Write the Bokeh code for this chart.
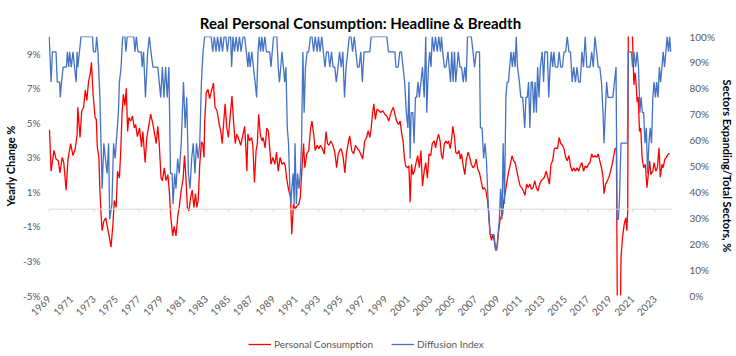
import math
from bokeh.plotting import figure
from bokeh.layouts import column
from bokeh.models import (Range1d, LinearAxis, FixedTicker, PrintfTickFormatter,
                          Span, Legend, LegendItem)
from bokeh.embed import file_html
from bokeh.resources import INLINE

# ---------------- data ----------------
pc_year = [
    1969.03, 1969.17, 1969.43, 1969.61, 1969.81, 1969.96, 1970.16, 1970.30, 1970.51, 1970.68,
    1970.91, 1971.12, 1971.32, 1971.49, 1971.55, 1971.75, 1971.90, 1972.07, 1972.22, 1972.36,
    1972.51, 1972.65, 1972.77, 1972.91, 1973.09, 1973.20, 1973.29, 1973.43, 1973.52, 1973.64,
    1973.72, 1973.87, 1974.04, 1974.22, 1974.33, 1974.51, 1974.68, 1974.80, 1974.97, 1975.09,
    1975.26, 1975.38, 1975.49, 1975.61, 1975.75, 1975.87, 1975.99, 1976.10, 1976.28, 1976.42,
    1976.59, 1976.71, 1976.86, 1977.06, 1977.23, 1977.35, 1977.55, 1977.70, 1977.87, 1978.04,
    1978.22, 1978.36, 1978.54, 1978.68, 1978.80, 1978.97, 1979.09, 1979.26, 1979.41, 1979.58,
    1979.72, 1979.84, 1980.01, 1980.13, 1980.30, 1980.48, 1980.59, 1980.77, 1980.94, 1981.06,
    1981.17, 1981.32, 1981.46, 1981.61, 1981.75, 1981.90, 1982.04, 1982.16, 1982.28, 1982.42,
    1982.57, 1982.68, 1982.80,
    1982.86, 1983.00, 1983.15, 1983.29, 1983.43, 1983.64, 1983.78, 1983.96, 1984.16, 1984.30,
    1984.42, 1984.54, 1984.68, 1984.83, 1984.97, 1985.12, 1985.29, 1985.43, 1985.58, 1985.72,
    1985.90, 1986.07, 1986.25, 1986.42, 1986.54, 1986.62, 1986.71, 1986.85, 1987.03, 1987.15,
    1987.29, 1987.44, 1987.55, 1987.67, 1987.81, 1987.96, 1988.07, 1988.25, 1988.39, 1988.54,
    1988.65, 1988.77, 1988.94, 1989.12, 1989.26, 1989.41, 1989.58, 1989.75, 1989.93, 1990.04,
    1990.16, 1990.33, 1990.51, 1990.62, 1990.77, 1990.91, 1991.09, 1991.26, 1991.38, 1991.55,
    1991.67, 1991.78, 1991.96, 1992.13, 1992.30, 1992.42, 1992.57, 1992.71, 1992.88, 1993.03,
    1993.17, 1993.35, 1993.52, 1993.67, 1993.81, 1993.93, 1994.10, 1994.28, 1994.45, 1994.62,
    1994.74, 1994.88, 1995.03, 1995.20, 1995.35, 1995.49, 1995.64, 1995.78, 1995.96, 1996.13,
    1996.30, 1996.48,
    1996.62, 1996.83, 1996.94, 1997.12, 1997.29, 1997.43, 1997.58, 1997.70, 1997.81, 1997.93,
    1998.07, 1998.22, 1998.39, 1998.56, 1998.74, 1998.91, 1999.09, 1999.26, 1999.38, 1999.52,
    1999.67, 1999.81, 1999.96, 2000.13, 2000.28, 2000.42, 2000.54, 2000.65, 2000.77, 2000.94,
    2001.06, 2001.17, 2001.29, 2001.41, 2001.55, 2001.70, 2001.84, 2001.99, 2002.13, 2002.27,
    2002.42, 2002.56, 2002.71, 2002.85, 2003.00, 2003.14, 2003.32, 2003.43, 2003.58, 2003.70,
    2003.84, 2003.96, 2004.07, 2004.22, 2004.36, 2004.48, 2004.59, 2004.74, 2004.88, 2004.97,
    2005.12, 2005.23, 2005.38, 2005.52, 2005.64, 2005.75, 2005.90, 2006.04, 2006.16, 2006.33,
    2006.48, 2006.62, 2006.77, 2006.91, 2007.06, 2007.20, 2007.35, 2007.49, 2007.64, 2007.78,
    2007.93, 2008.07, 2008.22, 2008.30, 2008.42, 2008.54, 2008.65, 2008.83, 2008.94, 2009.06,
    2009.17, 2009.29, 2009.41, 2009.52, 2009.67, 2009.81, 2009.96, 2010.10, 2010.25, 2010.39,
    2010.53, 2010.68, 2010.82, 2010.97, 2011.11, 2011.26, 2011.40, 2011.55, 2011.69, 2011.84,
    2011.98, 2012.13, 2012.27, 2012.42, 2012.56, 2012.71, 2012.85, 2013.00, 2013.14, 2013.29,
    2013.43, 2013.58, 2013.72, 2013.87, 2014.01, 2014.16, 2014.30, 2014.45, 2014.59, 2014.74,
    2014.88, 2015.03, 2015.17, 2015.32, 2015.46, 2015.61, 2015.75, 2015.90, 2016.04, 2016.19,
    2016.33, 2016.48, 2016.62, 2016.77, 2016.91, 2017.06, 2017.20, 2017.35, 2017.49, 2017.64,
    2017.78, 2017.93, 2018.07, 2018.22, 2018.36, 2018.45, 2018.59, 2018.74, 2018.88, 2019.03,
    2019.17, 2019.32, 2019.43, 2019.55, 2019.64, 2019.72, 2019.84, 2019.96, 2020.10, 2020.25,
    2020.39, 2020.48, 2020.56, 2020.64, 2020.80, 2020.96, 2021.11, 2021.20, 2021.29, 2021.40,
    2021.49, 2021.61, 2021.72, 2021.84, 2021.98, 2022.13, 2022.27, 2022.39, 2022.51, 2022.62,
    2022.80, 2022.91, 2023.06, 2023.20, 2023.35, 2023.46, 2023.61, 2023.72, 2023.87, 2024.01,
    2024.16, 2024.30,
]
pc_value = [
    4.6, 2.2, 3.4, 2.9, 2.8, 2.1, 3.0, 2.7, 1.1, 2.9,
    3.8, 3.1, 3.5, 4.3, 5.9, 4.15, 5.7, 5.9, 6.9, 6.3,
    7.4, 7.8, 8.5, 6.7, 5.3, 5.2, 3.6, 3.0, 1.1, -0.5,
    -1.25, -0.7, -0.5, -1.15, -1.5, -2.2, -0.9, 0.5, 0.1, 2.2,
    1.8, 3.4, 5.5, 6.65, 6.0, 7.0, 4.5, 5.3, 5.1, 5.4,
    4.7, 4.9, 4.2, 4.7, 3.6, 4.5, 2.7, 4.15, 4.8, 5.5,
    5.0, 4.5, 3.8, 4.8, 3.9, 1.8, 1.65, 2.4, 1.65, 2.0,
    0.9, -0.5, -1.55, -1.0, -1.55, -0.3, 0.1, 1.1, 1.8, 3.1,
    2.0, 0.1, -0.1, 0.7, 1.1, 0.1, 0.9, 0.1, 0.5, 2.6,
    3.9, 3.8, 3.0,
    5.1, 6.75, 6.95, 6.4, 6.75, 7.3, 5.9, 5.7, 4.9, 4.5,
    3.8, 4.9, 6.1, 4.7, 4.15, 5.3, 6.55, 5.1, 3.8, 4.35,
    4.05, 3.7, 4.25, 4.8, 3.4, 2.2, 4.35, 3.95, 4.15, 3.7,
    1.55, 3.4, 3.8, 5.5, 4.35, 3.95, 4.15, 3.55, 4.7, 4.5,
    3.55, 2.6, 3.0, 2.6, 3.3, 2.2, 3.0, 2.6, 2.7, 2.5,
    1.8, 1.15, 0.7, -1.45, 0.3, 0.0, 0.2, 0.3, 0.7, 2.6,
    3.8, 2.4, 3.2, 3.4, 4.7, 5.1, 4.35, 3.4, 3.7, 3.5,
    3.7, 3.5, 3.2, 4.5, 3.8, 3.7, 3.95, 3.7, 3.3, 2.4,
    3.1, 3.4, 3.5, 3.0, 2.1, 3.2, 3.8, 4.25, 3.4, 3.2,
    3.7, 3.5,
    3.4, 3.1, 2.9, 3.95, 4.15, 4.55, 4.15, 4.7, 5.5, 6.1,
    5.2, 5.8, 5.7, 5.6, 5.7, 5.5, 5.4, 5.1, 5.4, 5.7,
    5.9, 5.5, 5.1, 4.9, 5.1, 4.35, 3.95, 3.0, 2.5, 2.4,
    2.5, 0.4, 2.6, 2.0, 2.2, 2.7, 3.1, 2.4, 3.4, 1.35,
    2.2, 2.7, 1.8, 3.2, 3.1, 3.8, 3.95, 3.55, 4.05, 4.35,
    3.95, 3.1, 2.9, 3.8, 3.95, 3.8, 3.95, 3.5, 4.15, 4.8,
    4.15, 3.3, 3.2, 3.4, 2.9, 3.2, 2.5, 2.0, 2.8, 3.3,
    3.0, 2.6, 2.4, 2.5, 2.9, 2.3, 2.1, 1.65, 1.15, 1.25,
    1.05, 0.5, -0.65, -1.45, -1.8, -1.45, -1.8, -2.4, -2.1, -1.25,
    -0.65, -0.4, -0.3, 0.5, 1.05, 1.65, 2.2, 2.6, 3.1, 2.8,
    2.7, 2.2, 1.75, 1.35, 1.25, 1.05, 0.8, 1.45, 1.25, 1.45,
    1.15, 1.25, 1.65, 1.25, 1.05, 1.45, 1.65, 1.75, 1.85, 2.2,
    1.85, 1.45, 2.6, 2.8, 3.5, 3.55, 3.5, 4.15, 3.8, 3.7,
    3.5, 3.0, 2.8, 3.1, 2.5, 2.2, 2.4, 2.2, 2.4, 2.2,
    2.5, 2.7, 2.2, 2.5, 2.4, 2.6, 2.7, 3.2, 3.0, 3.1,
    3.0, 3.2, 2.8, 2.4, 1.85, 0.9, 1.45, 1.65, 1.85, 2.2,
    2.6, 3.1, 3.5, 3.55, -6.5, -17.0, -9.5, -2.8, -1.6, -0.85,
    -0.5, -1.25, -0.1, 16.0, 12.5, 10.5, 7.2, 7.9, 7.4, 6.2,
    6.5, 4.5, 4.7, 3.0, 2.4, 2.6, 1.25, 2.0, 2.8, 2.0,
    2.2, 2.7, 2.2, 2.4, 3.55, 1.85, 2.6, 2.4, 2.9, 3.0,
    3.2, 3.2,
]

di_year = [
    1969.00, 1969.17, 1969.29, 1969.61, 1969.72, 1969.93, 1969.99, 1970.10, 1970.25, 1970.54,
    1970.62, 1970.74, 1970.83, 1970.97, 1971.12, 1971.26, 1971.41, 1971.49, 1971.55, 1971.70,
    1971.84, 1972.86, 1972.94, 1973.14, 1973.23, 1973.35, 1973.52, 1973.72, 1973.87, 1974.01,
    1974.16, 1974.30, 1974.39, 1974.59, 1974.74, 1974.88, 1975.17, 1975.26, 1975.41, 1975.55,
    1975.75, 1975.84, 1975.96, 1976.54, 1976.65, 1976.77, 1976.91, 1977.20, 1977.29, 1977.41,
    1977.58, 1977.78, 1977.93, 1978.07, 1978.25, 1978.68, 1978.94, 1979.09, 1979.23, 1979.38,
    1979.52, 1979.67, 1979.81, 1979.96, 1980.04, 1980.19, 1980.30, 1980.45, 1980.59, 1980.77,
    1980.97, 1981.12, 1981.26, 1981.41, 1981.55, 1981.70, 1981.84, 1981.99, 1982.13, 1982.28,
    1982.42, 1982.57, 1982.71, 1982.86,
    1983.00, 1983.43, 1983.58, 1983.72, 1983.87, 1984.01, 1984.16, 1984.30, 1984.45, 1984.59,
    1984.74, 1984.88, 1985.03, 1985.17, 1985.26, 1985.38, 1985.52, 1985.67, 1985.81, 1985.96,
    1986.10, 1986.28, 1986.42, 1986.57, 1986.71, 1986.80, 1986.91, 1987.06, 1987.20, 1987.35,
    1987.49, 1987.61, 1987.72, 1987.84, 1987.96, 1988.07, 1988.22, 1988.36, 1988.65, 1988.77,
    1988.88, 1989.00, 1989.29, 1989.41, 1989.52, 1989.64, 1989.75, 1989.87, 1989.99, 1990.10,
    1990.22, 1990.33, 1990.45, 1990.54, 1990.62, 1990.74, 1990.83, 1990.91, 1991.03, 1991.14,
    1991.26, 1991.38, 1991.49, 1991.61, 1991.72, 1991.84, 1991.99, 1992.13, 1992.28, 1992.42,
    1992.57, 1992.71, 1992.88, 1993.00, 1993.14, 1993.29, 1993.43, 1993.58, 1993.72, 1993.87,
    1994.01, 1994.16, 1994.30, 1994.45, 1994.59, 1994.74, 1994.88, 1995.03, 1995.17, 1995.32,
    1995.46, 1995.61, 1995.75, 1995.90, 1996.04, 1996.19, 1996.33, 1996.48,
    1996.62, 1996.77, 1996.91, 1997.06, 1997.58, 1997.70, 1999.09, 1999.23, 1999.81, 1999.90,
    2000.10, 2000.25, 2000.39, 2000.54, 2000.68, 2000.83, 2000.97, 2001.06, 2001.17, 2001.26,
    2001.41, 2001.52, 2001.64, 2001.75, 2001.87, 2001.99, 2002.13, 2002.27, 2002.42, 2002.56,
    2002.65, 2002.80, 2002.91, 2003.03, 2003.14, 2003.29, 2003.43, 2003.58, 2003.72, 2003.87,
    2003.96, 2004.07, 2004.22, 2004.36, 2004.54, 2004.65, 2004.77, 2004.88, 2005.00, 2005.12,
    2005.23, 2005.35, 2005.46, 2005.61, 2005.75, 2005.90, 2006.04, 2006.16, 2006.28, 2006.62,
    2006.77, 2006.91, 2007.06, 2007.35, 2007.43, 2007.58, 2007.72, 2007.84, 2007.96, 2008.07,
    2008.19, 2008.30, 2008.65, 2008.77, 2008.88, 2009.00, 2009.12, 2009.23, 2009.35, 2009.46,
    2009.58, 2009.70, 2009.81, 2009.93, 2010.04, 2010.16, 2010.28, 2010.39,
    2010.53, 2010.62, 2010.74, 2010.91, 2011.03, 2011.20, 2011.38, 2011.49, 2011.61, 2011.72,
    2011.84, 2011.96, 2012.07, 2012.19, 2012.30, 2012.42, 2012.53, 2012.65, 2012.77, 2012.94,
    2013.06, 2013.17, 2013.40, 2013.52, 2013.64, 2013.75, 2013.87, 2013.98, 2014.10, 2014.33,
    2014.45, 2014.59, 2014.74, 2014.88, 2015.03, 2015.17, 2015.32, 2015.46, 2015.61, 2015.75,
    2015.90, 2016.04, 2016.19, 2016.33, 2016.48, 2016.62, 2016.77, 2016.91, 2017.20, 2017.35,
    2017.49, 2017.64, 2017.78, 2017.93, 2018.07, 2018.22, 2018.36, 2018.45, 2018.56, 2018.68,
    2018.80, 2019.23, 2019.38, 2019.52, 2019.61, 2019.72, 2019.81, 2019.96, 2020.53, 2020.62,
    2020.88, 2020.99, 2021.11, 2021.26, 2021.40, 2021.52, 2021.64, 2021.75, 2021.87, 2021.98,
    2022.10, 2022.22, 2022.33, 2022.45, 2022.56, 2022.68, 2022.80, 2022.91, 2023.03, 2023.14,
    2023.26, 2023.38, 2023.49, 2023.61, 2023.72, 2023.84, 2023.96, 2024.07, 2024.19, 2024.30,
    2024.39,
]
di_value = [
    100, 82.4, 94.1, 94.1, 82.4, 82.4, 76.5, 82.4, 88.2, 88.2,
    94.1, 88.2, 94.1, 88.2, 94.1, 88.2, 82.4, 94.1, 88.2, 94.1,
    100, 100, 94.1, 94.1, 100, 94.1, 76.5, 41.2, 58.8, 52.9,
    47.1, 58.8, 29.4, 35.3, 58.8, 52.9, 70.6, 82.4, 88.2, 100,
    100, 94.1, 100, 100, 94.1, 100, 94.1, 94.1, 88.2, 94.1,
    76.5, 94.1, 100, 94.1, 88.2, 88.2, 76.5, 88.2, 76.5, 88.2,
    76.5, 88.2, 47.1, 47.1, 35.3, 47.1, 41.2, 52.9, 47.1, 58.8,
    82.4, 64.7, 76.5, 47.1, 41.2, 52.9, 58.8, 47.1, 58.8, 52.9,
    58.8, 82.4, 94.1, 100,
    100, 100, 94.1, 100, 94.1, 100, 94.1, 100, 94.1, 100,
    100, 94.1, 100, 100, 88.2, 100, 94.1, 100, 94.1, 100,
    94.1, 100, 100, 94.1, 88.2, 94.1, 88.2, 94.1, 88.2, 82.4,
    76.5, 94.1, 100, 94.1, 100, 94.1, 100, 94.1, 94.1, 88.2,
    94.1, 100, 100, 88.2, 82.4, 88.2, 94.1, 88.2, 82.4, 88.2,
    64.7, 58.8, 41.2, 35.3, 41.2, 47.1, 35.3, 58.8, 35.3, 47.1,
    41.2, 47.1, 58.8, 94.1, 70.6, 88.2, 94.1, 94.1, 100, 100,
    94.1, 100, 94.1, 100, 94.1, 100, 94.1, 88.2, 94.1, 94.1,
    88.2, 94.1, 88.2, 88.2, 82.4, 88.2, 94.1, 88.2, 94.1, 76.5,
    88.2, 94.1, 100, 100, 94.1, 100, 94.1, 88.2,
    88.2, 94.1, 82.4, 94.1, 94.1, 100, 100, 94.1, 94.1, 88.2,
    88.2, 94.1, 94.1, 88.2, 82.4, 70.6, 64.7, 82.4, 52.9, 70.6,
    70.6, 58.8, 76.5, 76.5, 82.4, 76.5, 82.4, 88.2, 76.5, 100,
    70.6, 88.2, 94.1, 88.2, 100, 94.1, 100, 94.1, 100, 94.1,
    100, 94.1, 88.2, 88.2, 94.1, 88.2, 82.4, 94.1, 82.4, 94.1,
    82.4, 88.2, 94.1, 88.2, 88.2, 82.4, 88.2, 82.4, 100, 100,
    94.1, 88.2, 94.1, 94.1, 64.7, 64.7, 52.9, 58.8, 52.9, 41.2,
    29.4, 23.5, 23.5, 17.6, 17.6, 23.5, 29.4, 41.2, 29.4, 58.8,
    35.3, 76.5, 82.4, 82.4, 88.2, 94.1, 88.2, 94.1,
    88.2, 100, 88.2, 82.4, 76.5, 76.5, 64.7, 76.5, 76.5, 82.4,
    64.7, 82.4, 82.4, 70.6, 82.4, 70.6, 88.2, 76.5, 88.2, 94.1,
    82.4, 94.1, 94.1, 76.5, 88.2, 94.1, 88.2, 94.1, 88.2, 88.2,
    94.1, 88.2, 88.2, 94.1, 94.1, 100, 94.1, 94.1, 82.4, 88.2,
    82.4, 88.2, 82.4, 82.4, 94.1, 88.2, 100, 88.2, 88.2, 94.1,
    88.2, 100, 94.1, 88.2, 88.2, 82.4, 70.6, 58.8, 70.6, 82.4,
    76.5, 76.5, 82.4, 88.2, 29.4, 29.4, 35.3, 58.8, 58.8, 94.1,
    94.1, 88.2, 94.1, 88.2, 94.1, 88.2, 70.6, 76.5, 70.6, 70.6,
    58.8, 64.7, 47.1, 58.8, 64.7, 58.8, 76.5, 82.4, 76.5, 82.4,
    76.5, 88.2, 82.4, 88.2, 94.1, 88.2, 94.1, 100, 94.1, 100,
    94.1,
]

year_ticks = list(range(1969, 2024, 2))          # 1969, 1971, ... 2023
left_ticks = [-5, -3, -1, 1, 3, 5, 7, 9]           # Yearly change %
right_ticks = [0, 10, 20, 30, 40, 50, 60, 70, 80, 90, 100]
series_names = ["Personal Consumption", "Diffusion Index"]

# ---------------- styling ----------------
FONT = "Lato"
TICK_COLOR = "#595959"
RED = "#FF0000"
BLUE = "#4472C4"


def bare_axis(ax):
    ax.axis_line_color = None
    ax.major_tick_line_color = None
    ax.minor_tick_line_color = None
    ax.major_tick_out = 0
    ax.major_tick_in = 0
    ax.minor_tick_out = 0
    ax.minor_tick_in = 0
    ax.major_label_text_font = FONT
    ax.major_label_text_font_size = "10px"
    ax.major_label_text_color = TICK_COLOR


p = figure(width=736, height=327, output_backend="svg", toolbar_location=None,
           x_range=Range1d(1968.94, 2024.55), y_range=Range1d(-5, 10),
           min_border_left=44, min_border_right=55, min_border_top=36, min_border_bottom=32,
           background_fill_color="white", border_fill_color="white",
           outline_line_color=None)

p.title.text = "Real Personal Consumption: Headline & Breadth"
p.title.align = "center"
p.title.text_font = FONT
p.title.text_font_style = "bold"
p.title.text_font_size = "15px"
p.title.text_color = "#000000"
p.title.standoff = 9

p.xgrid.visible = False
p.ygrid.visible = False

# bottom axis: labels only
xa = p.xaxis[0]
bare_axis(xa)
xa.ticker = FixedTicker(ticks=year_ticks)
xa.formatter = PrintfTickFormatter(format="%d")
xa.major_label_orientation = math.pi / 4
xa.major_label_standoff = 2

# left axis
ya = p.yaxis[0]
bare_axis(ya)
ya.ticker = FixedTicker(ticks=left_ticks)
ya.formatter = PrintfTickFormatter(format="%d%%")
ya.major_label_standoff = 8
ya.axis_label = "Yearly Change %"
ya.axis_label_text_font = FONT
ya.axis_label_text_font_style = "bold"
ya.axis_label_text_font_size = "11px"
ya.axis_label_text_color = "#000000"
ya.axis_label_standoff = 3

# right axis
p.extra_y_ranges = {"di": Range1d(0, 100)}
ra = LinearAxis(y_range_name="di", ticker=FixedTicker(ticks=right_ticks),
                formatter=PrintfTickFormatter(format="%d%%"))
bare_axis(ra)
ra.major_label_standoff = 17
ra.axis_label = "Sectors Expanding/Total Sectors, %"
ra.axis_label_text_font = FONT
ra.axis_label_text_font_style = "bold"
ra.axis_label_text_font_size = "11px"
ra.axis_label_text_color = "#000000"
ra.axis_label_standoff = 3
p.add_layout(ra, "right")

# zero line with small tick marks (Excel horizontal axis crossing at 0)
p.add_layout(Span(location=0, dimension="width", line_color="#D9D9D9", line_width=1))
p.segment(x0=year_ticks, y0=[0] * len(year_ticks), x1=year_ticks, y1=[-0.17] * len(year_ticks),
          line_color="#D9D9D9", line_width=1)

p.line(pc_year, pc_value, line_color=RED, line_width=1.3)
p.line(di_year, di_value, y_range_name="di", line_color=BLUE, line_width=1.3)

# ---------------- legend strip below the chart ----------------
# same series, drawn in a strip whose ranges keep them out of view: only the legend shows
lg = figure(width=736, height=29, output_backend="svg", toolbar_location=None,
            x_range=Range1d(0, 1), y_range=Range1d(0, 1),
            x_axis_type=None, y_axis_type=None,
            min_border_left=0, min_border_right=0, min_border_top=0, min_border_bottom=0,
            background_fill_color="white", border_fill_color="white",
            outline_line_color=None)
lg.xgrid.visible = False
lg.ygrid.visible = False
lr_pc = lg.line(pc_year, pc_value, line_color=RED, line_width=1.3)
lr_di = lg.line(di_year, di_value, line_color=BLUE, line_width=1.3)
legend = Legend(items=[LegendItem(label=series_names[0], renderers=[lr_pc]),
                       LegendItem(label=series_names[1], renderers=[lr_di])],
                orientation="horizontal", location=(200, 6),
                glyph_width=23, glyph_height=12, label_standoff=3, spacing=18,
                padding=0, margin=0, label_text_font=FONT, label_text_font_size="10px",
                label_text_color=TICK_COLOR, border_line_color=None,
                background_fill_alpha=0)
lg.add_layout(legend, "center")

layout = column(p, lg, spacing=0)
open("out.html", "w").write(file_html(layout, INLINE))
